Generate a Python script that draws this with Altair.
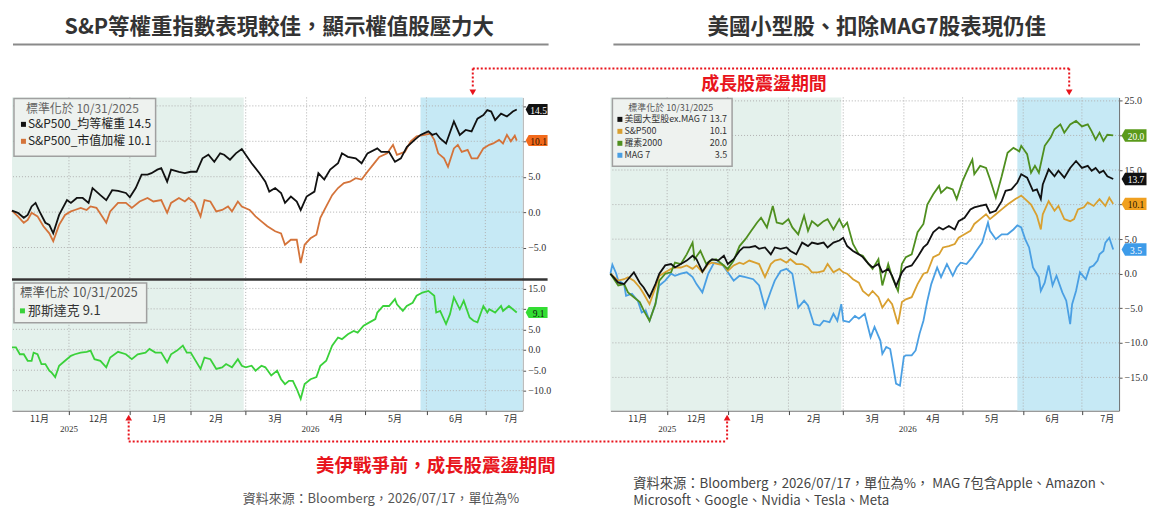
import altair as alt
import pandas as pd

FONT = "Noto Sans CJK TC"
NUMF = "Liberation Serif"
RED = "#e8141c"

START = "2025-11-02"
X_END = "2026-07-20"

# ---------------- data: (days after 2025-11-02, % change since 10/31/2025) ----------------
ew = [(0,0.2),(3,-0.1),(6,-0.8),(8,-0.4),(10,0.8),(12,1.3),(14,0.1),(17,-1.5),(19,-1.8),(21,-3.0),
      (24,-0.4),(28,1.7),(30,1.3),(33,2.0),(36,2.0),(39,1.3),(41,3.4),(45,2.4),(48,1.7),(51,3.1),
      (54,3.0),(58,2.7),(60,2.1),(63,3.4),(66,5.3),(69,5.3),(71,5.5),(74,6.0),(76,6.2),(79,4.3),
      (81,6.0),(85,5.7),(88,5.5),(91,5.7),(94,5.7),(97,7.6),(100,8.1),(103,7.1),(106,8.3),(108,8.1),
      (111,7.4),(114,8.3),(117,8.9),(119,8.1),(122,6.9),(126,5.5),(129,4.3),(131,2.9),(134,3.4),(137,2.7),
      (139,1.3),(142,2.2),(145,1.5),(147,0.3),(150,2.2),(154,2.9),(156,5.5),(159,4.6),(162,6.0),(166,6.9),
      (168,8.3),(171,7.8),(175,7.6),(178,6.9),(181,8.3),(186,9.0),(188,8.5),(192,8.5),(195,7.1),(198,7.6),
      (201,9.2),(205,10.2),(208,10.9),(212,11.4),(214,10.9),(216,11.1),(218,10.4),(221,9.7),(225,12.8),(228,10.9),
      (231,11.6),(234,11.4),(237,13.2),(240,13.7),(242,14.4),(244,14.2),(246,13.0),(249,13.9),(252,13.5),(255,14.2),
      (257,14.5)]
cw = [(0,0.2),(3,-0.6),(6,-1.5),(8,-1.1),(10,-0.1),(13,-0.6),(16,-2.0),(19,-3.0),(21,-4.1),(24,-1.8),
      (27,-0.4),(30,0.1),(32,0.3),(35,0.6),(38,0.3),(40,0.8),(43,0.6),(48,-1.5),(50,0.1),(54,1.3),
      (58,1.3),(61,0.6),(65,1.5),(69,2.0),(72,1.5),(76,1.7),(79,-0.1),(81,1.3),(85,2.0),(88,1.5),
      (90,2.0),(93,1.3),(96,-0.6),(98,1.7),(101,1.5),(104,0.1),(107,0.3),(110,0.8),(112,0.1),(115,1.5),
      (117,0.8),(121,0.3),(124,-0.6),(127,-1.3),(130,-2.0),(134,-2.7),(137,-3.0),(139,-4.6),(142,-3.9),(145,-3.9),
      (147,-7.2),(149,-4.6),(152,-3.7),(155,-3.2),(157,-0.8),(160,0.8),(163,2.4),(166,3.4),(169,4.1),(172,4.3),
      (175,4.8),(178,4.6),(181,5.7),(185,7.1),(187,7.8),(191,8.3),(194,9.5),(196,8.1),(200,8.5),(203,10.0),
      (206,10.7),(210,10.9),(213,11.1),(215,10.2),(217,8.3),(220,7.6),(222,6.4),(225,9.0),(227,9.5),(229,8.5),
      (232,8.8),(234,7.6),(237,7.6),(240,9.0),(243,9.5),(245,9.7),(248,10.2),(250,9.7),(252,10.9),(254,10.0),
      (256,10.8),(257,10.1)]
nq = [(0,0.6),(2,0.6),(4,-1.1),(6,-1.1),(8,-2.7),(10,-2.7),(11,-0.7),(13,-1.1),(15,-3.5),(17,-3.5),
      (19,-5.1),(20,-5.5),(22,-6.7),(24,-3.9),(27,-2.7),(30,-1.5),(32,-1.1),(35,-0.7),(38,-0.5),(40,-0.2),
      (42,-2.3),(45,-2.7),(48,-4.3),(50,-1.9),(54,-0.5),(58,-1.1),(61,-2.3),(64,-1.1),(68,-0.7),(70,0.2),
      (73,-0.7),(76,-0.7),(79,-3.1),(81,-1.1),(84,-0.2),(87,1.0),(89,-0.7),(91,-0.7),(96,-4.7),(98,-1.9),
      (101,-2.3),(104,-4.7),(107,-4.3),(109,-3.5),(112,-4.3),(115,-2.3),(117,-3.9),(119,-4.3),(122,-3.9),(124,-5.1),
      (127,-3.9),(129,-4.3),(132,-6.3),(135,-5.1),(137,-7.2),(139,-8.4),(141,-7.6),(143,-7.6),(145,-9.6),(147,-12.0),
      (149,-8.4),(152,-7.2),(155,-6.7),(157,-3.9),(160,-2.7),(163,1.0),(166,3.0),(168,2.6),(171,3.8),(174,4.6),
      (176,4.2),(179,5.9),(182,6.7),(185,7.5),(186,9.1),(189,10.7),(192,10.7),(195,12.4),(196,11.1),(199,9.5),
      (201,10.7),(204,11.5),(206,13.2),(209,14.0),(212,14.4),(215,13.2),(216,9.1),(218,9.5),(221,6.3),(223,8.7),
      (225,12.8),(228,9.9),(230,12.0),(233,7.9),(235,7.1),(237,6.7),(240,10.7),(242,9.1),(243,9.9),(246,9.1),
      (249,10.7),(250,9.5),(253,10.7),(257,9.1)]
rs = [(0,0.0),(4,-1.7),(7,-1.5),(9,-2.7),(12,-3.4),(15,-4.1),(17,-5.3),(20,-6.8),(23,-4.4),(25,-1.0),
      (28,0.0),(31,0.2),(33,1.6),(36,1.4),(39,2.8),(42,4.5),(43,2.1),(46,3.3),(49,1.4),(51,1.9),
      (54,2.1),(57,1.4),(60,0.7),(63,1.9),(66,4.0),(69,5.0),(72,6.2),(75,7.4),(77,8.1),(80,6.7),
      (83,9.8),(85,7.4),(88,7.2),(91,7.9),(93,6.7),(96,5.7),(99,8.4),(101,6.2),(103,7.6),(106,6.9),
      (109,7.6),(111,7.9),(114,6.4),(117,7.9),(119,6.7),(121,7.4),(124,4.3),(127,2.8),(129,2.6),(132,1.4),
      (134,0.7),(137,2.1),(139,-1.7),(142,1.4),(144,-0.5),(147,-2.5),(149,1.4),(151,2.4),(154,2.8),(157,6.0),
      (160,7.2),(162,10.0),(165,11.5),(168,12.7),(169,11.7),(172,12.5),(175,12.2),(177,10.8),(180,13.4),(183,15.3),
      (185,16.5),(186,14.4),(189,15.6),(192,15.3),(194,13.7),(197,11.0),(200,14.1),(203,17.5),(206,18.2),(209,17.7),
      (210,18.5),(213,17.3),(215,14.6),(217,15.6),(219,14.6),(222,18.5),(225,19.7),(227,20.9),(230,21.6),(232,20.4),
      (235,21.6),(238,22.1),(241,21.3),(244,21.6),(246,20.6),(248,19.4),(250,20.4),(252,19.2),(254,20.1),(257,20.0)]
xm = [(0,0.0),(4,-1.3),(7,-1.5),(9,-0.8),(12,0.2),(15,-1.3),(17,-2.0),(20,-3.4),(23,-1.5),(25,0.0),
      (28,1.2),(31,1.4),(33,0.9),(36,1.4),(39,1.9),(42,2.6),(44,2.1),(47,0.3),(50,1.6),(52,2.1),
      (55,1.9),(58,2.6),(60,1.4),(63,2.1),(66,3.3),(68,3.8),(71,3.8),(74,4.0),(76,3.6),(79,3.8),
      (82,2.8),(84,3.8),(87,3.6),(90,3.8),(92,3.3),(95,2.8),(98,4.5),(101,4.0),(103,4.5),(106,4.3),
      (109,4.5),(111,3.8),(114,4.5),(117,4.8),(119,5.2),(121,4.0),(124,3.3),(127,2.8),(129,2.4),(132,1.4),
      (134,0.9),(137,1.4),(139,0.2),(142,0.7),(144,-0.3),(146,-1.8),(149,0.2),(151,0.9),(154,1.2),(157,2.4),
      (160,3.8),(162,4.3),(165,6.0),(168,6.7),(170,6.4),(173,6.9),(176,6.4),(178,7.6),(181,8.1),(184,9.3),
      (186,9.6),(189,9.8),(192,10.0),(194,8.8),(197,9.1),(200,10.5),(202,12.0),(205,12.2),(208,13.2),(210,14.4),
      (213,13.9),(216,12.0),(218,12.2),(220,10.8),(221,12.9),(224,15.1),(227,14.1),(229,14.9),(232,13.9),(235,15.3),
      (238,16.3),(241,15.3),(244,15.6),(246,14.9),(248,15.3),(250,14.6),(252,14.9),(254,14.1),(257,13.7)]
sp = [(0,0.0),(4,-1.0),(7,-0.8),(9,-0.5),(12,-1.0),(15,-2.0),(17,-2.9),(20,-4.4),(23,-2.0),(25,-0.3),
      (28,0.2),(31,0.7),(33,0.9),(36,0.9),(39,1.2),(42,0.7),(44,1.2),(47,0.2),(50,1.4),(52,1.6),
      (55,1.4),(58,1.2),(60,0.4),(63,1.2),(66,1.6),(68,1.4),(71,1.9),(74,1.6),(76,1.4),(79,-0.5),
      (82,1.4),(84,1.9),(87,2.1),(90,1.6),(92,2.1),(95,1.4),(98,1.4),(101,0.9),(103,0.2),(106,0.2),
      (109,0.4),(111,1.4),(114,0.2),(117,0.7),(119,0.2),(121,0.0),(124,-0.8),(127,-1.3),(129,-2.5),(132,-3.2),
      (134,-2.5),(137,-3.4),(139,-4.9),(142,-3.7),(144,-4.4),(147,-7.3),(149,-4.1),(151,-3.7),(154,-3.4),(157,-1.5),
      (160,0.0),(162,0.2),(165,2.4),(168,2.8),(170,3.8),(173,4.0),(176,4.3),(178,5.2),(181,5.7),(184,6.2),
      (186,7.2),(189,7.9),(192,8.6),(194,7.9),(197,8.6),(200,9.3),(203,10.0),(207,10.8),(210,11.3),(212,10.8),
      (215,10.0),(218,8.4),(220,6.4),(221,8.6),(224,10.5),(227,9.1),(229,9.8),(232,7.9),(235,7.6),(237,7.9),
      (239,9.3),(242,9.6),(244,10.3),(247,9.8),(250,10.8),(253,9.8),(255,11.0),(257,10.1)]
mg = [(0,0.0),(1,1.3),(3,0.0),(4,-1.0),(7,-1.5),(8,-3.2),(11,-2.9),(14,-3.9),(16,-5.6),(18,-5.3),
      (20,-6.8),(23,-4.4),(25,-1.7),(28,-1.0),(31,0.0),(33,-0.3),(36,0.0),(39,0.2),(42,-0.5),(44,-1.5),
      (47,-2.7),(50,0.0),(53,1.6),(57,1.4),(60,0.2),(63,-1.0),(66,-0.3),(69,-0.5),(73,-0.8),(76,-1.7),
      (79,-4.9),(82,-2.5),(84,-1.0),(87,0.4),(90,0.7),(93,0.0),(96,-4.9),(99,-3.9),(101,-4.6),(104,-7.3),
      (107,-7.5),(109,-6.8),(112,-7.0),(114,-5.8),(116,-6.8),(118,-4.4),(119,-6.8),(122,-7.0),(125,-6.1),(127,-6.5),
      (130,-5.8),(133,-9.2),(135,-7.7),(138,-9.7),(139,-11.6),(141,-10.6),(143,-10.9),(144,-12.5),(146,-15.9),(148,-16.2),
      (150,-12.0),(151,-11.8),(154,-11.8),(156,-11.1),(158,-8.7),(160,-6.8),(162,-3.9),(164,-1.5),(167,0.9),(169,-0.5),
      (172,1.4),(175,-0.3),(177,0.9),(179,1.6),(182,1.4),(185,2.4),(187,3.3),(190,4.5),(193,7.4),(194,6.2),
      (197,5.0),(200,5.7),(203,5.7),(206,6.4),(208,7.0),(210,6.7),(212,5.0),(214,3.8),(216,0.9),(219,-0.5),
      (220,-2.5),(222,-1.3),(224,1.2),(226,-1.7),(228,-0.3),(231,-2.7),(233,-3.9),(235,-7.3),(236,-4.4),(238,-2.5),
      (240,0.2),(243,-0.8),(245,0.9),(247,1.2),(249,1.9),(250,2.8),(252,3.3),(253,4.5),(255,5.2),(257,3.5)]

month_starts = ["2025-12-01", "2026-01-01", "2026-02-01", "2026-03-01",
                "2026-04-01", "2026-05-01", "2026-06-01", "2026-07-01"]
month_mids = ["2025-11-16", "2025-12-16", "2026-01-16", "2026-02-14", "2026-03-16",
              "2026-04-16", "2026-05-16", "2026-06-16", "2026-07-14"]
month_names = ["11月", "12月", "1月", "2月", "3月", "4月", "5月", "6月", "7月"]
year_pos = ["2025-12-01", "2026-04-03"]
year_names = ["2025", "2026"]
prewar_period = ["2025-11-02", "2026-02-28"]
volatile_period = ["2026-05-29", "2026-07-20"]
lt_ticks = [-5, 0, 5, 10, 15]
lb_ticks = [-10, -5, 0, 5, 10, 15]
rt_ticks = [-15, -10, -5, 0, 5, 10, 15, 20, 25]

ONE = pd.DataFrame({"k": [0]})
TAG = "M-1,0L-0.72,-0.5L1,-0.5L1,0.5L-0.72,0.5Z"

# ---- left column geometry: two stacked sub-plots sharing one y scale ----
LH, TOP_H, BOT_Y0 = 314, 181, 184
TOP_ZERO, TOP_PPU = 115.0, 7.1      # pixel row of 0 and px per unit, upper sub-plot
BOT_ZERO, BOT_PPU = 253.0, 4.1      # same for lower (Nasdaq) sub-plot
K = BOT_PPU / TOP_PPU
C = (TOP_ZERO - BOT_ZERO) / TOP_PPU
LEFT_DOM = [(TOP_ZERO - LH) / TOP_PPU, TOP_ZERO / TOP_PPU]


def ms(s):
    return int(pd.Timestamp(s, tz="UTC").timestamp() * 1000)


XS = alt.Scale(domain=[ms(START), ms(X_END)], nice=False)
XAX = alt.Axis(values=[ms(d) for d in month_starts], labels=False, ticks=True, tickSize=4,
               tickColor="#444", domainColor="#555", grid=False, title=None)


def series_df(pts):
    base = pd.Timestamp(START)
    return pd.DataFrame({
        "date": [(base + pd.Timedelta(days=d)).strftime("%Y-%m-%d") for d, _ in pts],
        "v": [v for _, v in pts],
    })


def txt(text, x, y, size=12, color="#333", weight="normal", align="left", font=FONT):
    return alt.Chart(ONE).mark_text(
        text=text, fontSize=size, color=color, fontWeight=weight, align=align,
        baseline="middle", font=font
    ).encode(x=alt.value(x), y=alt.value(y))


def hline(x1, x2, y, color, width=1.0, dash=None):
    kw = dict(color=color, strokeWidth=width)
    if dash:
        kw["strokeDash"] = dash
    return alt.Chart(ONE).mark_rule(**kw).encode(x=alt.value(x1), x2=alt.value(x2), y=alt.value(y))


def vline(x, y1, y2, color, width=1.0, dash=None):
    kw = dict(color=color, strokeWidth=width)
    if dash:
        kw["strokeDash"] = dash
    return alt.Chart(ONE).mark_rule(**kw).encode(x=alt.value(x), y=alt.value(y1), y2=alt.value(y2))


def box(x1, y1, x2, y2, fill, stroke=None, sw=1.0):
    kw = dict(fill=fill)
    if stroke:
        kw["stroke"] = stroke
        kw["strokeWidth"] = sw
    return alt.Chart(ONE).mark_rect(**kw).encode(
        x=alt.value(x1), x2=alt.value(x2), y=alt.value(y1), y2=alt.value(y2))


def tri(x, y, shape):
    return alt.Chart(ONE).mark_point(shape=shape, filled=True, color=RED, size=45, opacity=1).encode(
        x=alt.value(x), y=alt.value(y))


def shading(y0, y1):
    out = []
    for period, col in [(prewar_period, "#e4f1ec"), (volatile_period, "#c6e9f5")]:
        out.append(
            alt.Chart(pd.DataFrame({"a": [period[0]], "b": [period[1]]})).mark_rect(color=col).encode(
                x=alt.X("a:T", scale=XS, axis=XAX), x2="b:T", y=alt.value(y0), y2=alt.value(y1)))
    return out


def vgrid():
    return alt.Chart(pd.DataFrame({"d": month_starts})).mark_rule(
        color="#b0b0b0", strokeDash=[1, 2], strokeWidth=1).encode(
        x=alt.X("d:T", scale=XS, axis=XAX))


def month_labels(H):
    return [
        alt.Chart(pd.DataFrame({"d": month_mids, "t": month_names})).mark_text(
            font=FONT, fontSize=9, color="#333", baseline="middle").encode(
            x=alt.X("d:T", scale=XS, axis=XAX), y=alt.value(H + 8), text="t:N"),
        alt.Chart(pd.DataFrame({"d": year_pos, "t": year_names})).mark_text(
            font=NUMF, fontSize=9, color="#333", baseline="middle").encode(
            x=alt.X("d:T", scale=XS, axis=XAX), y=alt.value(H + 18), text="t:N"),
    ]


def subplot(ys, yax, yticks, lines, tags, tag_x, tag_size, k=1.0, c=0.0):
    expr = f"datum.v * {k} + {c}"
    Y = lambda: alt.Y("u:Q", scale=ys, axis=yax)
    layers = [
        alt.Chart(pd.DataFrame({"v": yticks})).transform_calculate(u=expr).mark_rule(
            color="#b0b0b0", strokeDash=[1, 2], strokeWidth=1).encode(y=Y())
    ]
    for pts, col in lines:
        layers.append(
            alt.Chart(series_df(pts)).transform_calculate(u=expr).mark_line(
                color=col, strokeWidth=1.8).encode(
                x=alt.X("date:T", scale=XS, axis=XAX), y=Y()))
    for val, bg, fg in tags:
        tdf = pd.DataFrame({"v": [val], "t": [f"{val:.1f}"]})
        layers.append(
            alt.Chart(tdf).transform_calculate(u=expr).mark_point(
                shape=TAG, size=tag_size, filled=True, color=bg, opacity=1, strokeWidth=0).encode(
                x=alt.value(tag_x), y=Y()))
        layers.append(
            alt.Chart(tdf).transform_calculate(u=expr).mark_text(
                color=fg, fontSize=9.5, font=NUMF, align="center", baseline="middle", dy=1.5).encode(
                x=alt.value(tag_x + 2), y=Y(), text="t:N"))
    return layers


# ================= left column =================
ys_left = alt.Scale(domain=LEFT_DOM, nice=False, zero=False)
left_values = lt_ticks + [v * K + C for v in lb_ticks]
orig = f"(datum.value > -8 ? datum.value : (datum.value - ({C})) / {K})"
# labels at 10 / 15 (upper) and 10 (lower) sit under the last-value tags, as in the source
hidden = f"(datum.value > -8 ? ({orig} > 7) : (abs({orig} - 10) < 0.01))"
yax_left = alt.Axis(
    orient="right", values=left_values, grid=False, title=None,
    labelExpr=f"{hidden} ? '' : format({orig}, '.1f')",
    labelFont=NUMF, labelFontSize=10, labelColor="#333", tickColor="#555",
    tickSize=3, domainColor="#999", labelPadding=2)

left_layers = []
left_layers += shading(0, TOP_H)
left_layers += shading(BOT_Y0, LH)
left_layers.append(vgrid())
left_layers += subplot(ys_left, yax_left, lt_ticks,
                       [(cw, "#d4733a"), (ew, "#111111")],
                       [(14.5, "#111111", "white"), (10.1, "#f26a1b", "#2a1200")], 526, 484)
left_layers += subplot(ys_left, yax_left, lb_ticks,
                       [(nq, "#3ad13a")],
                       [(9.1, "#33dd33", "#102010")], 526, 484, K, C)
left_layers += month_labels(LH)
left_layers += [
    # legend top
    box(2, 1, 144, 59, "#eef2ef", "#a0a0a0", 1.5),
    txt("標準化於 10/31/2025", 14, 12, 12, "#666"),
    box(9, 24.5, 14, 29.5, "#111111"),
    txt("S&P500_均等權重 14.5", 16, 27, 12, "#222"),
    box(9, 41.5, 14, 46.5, "#d4733a"),
    txt("S&P500_市值加權 10.1", 16, 44, 12, "#222"),
    # separator
    hline(0, 537, 182.5, "#333", 2.5),
    # legend bottom
    box(2, 186, 135, 226, "#eef2ef", "#a0a0a0", 1.5),
    txt("標準化於 10/31/2025", 8, 196, 12.5, "#555"),
    box(8, 211.5, 13, 216.5, "#3ad13a"),
    txt("那斯達克 9.1", 16, 214, 13, "#333"),
    # title block
    hline(0, 2, -88, "white", 1),
    txt("S&P等權重指數表現較佳，顯示權值股壓力大", 268, -70, 21.5, "#333", "bold", "center"),
    hline(1, 538, -53, "#8a8a8a", 2),
    # top bracket: growth-stock volatility period
    hline(462, 1060, -29, RED, 2, [2, 2]),
    vline(462, -29, -9, RED, 2, [2, 2]),
    vline(1060, -29, -9, RED, 2, [2, 2]),
    tri(462, -5, "triangle-down"),
    tri(1060, -5, "triangle-down"),
    txt("成長股震盪期間", 754, -12, 18, RED, "bold", "center"),
    # bottom bracket: before US-Iran war
    hline(117, 717, 345, RED, 2, [2, 2]),
    vline(117, 325, 345, RED, 2, [2, 2]),
    vline(717, 325, 345, RED, 2, [2, 2]),
    tri(117, 321, "triangle-up"),
    tri(717, 321, "triangle-up"),
    txt("美伊戰爭前，成長股震盪期間", 425, 370, 18.5, RED, "bold", "center"),
    txt("資料來源：Bloomberg，2026/07/17，單位為%", 370, 403, 13, "#555", "normal", "center"),
]
left = alt.layer(*left_layers).properties(width=512, height=LH)

# ================= right panel =================
RH = 314
ys_right = alt.Scale(domain=[-19.8, 25.5], nice=False, zero=False)
yax_right = alt.Axis(orient="right", values=rt_ticks, grid=False, title=None,
                     labelExpr="(datum.value == 20 || datum.value == 10) ? '' : format(datum.value, '.1f')",
                     labelFont=NUMF, labelFontSize=10, labelColor="#333", tickColor="#555",
                     tickSize=3, domainColor="#666", labelPadding=2)
leg_rows = [("美國大型股ex.MAG 7", "13.7", "#111111", 22),
            ("S&P500", "10.1", "#d9a030", 34),
            ("羅素2000", "20.0", "#4f8f1f", 46),
            ("MAG 7", "3.5", "#4a9fe3", 58)]
right_layers = []
right_layers += shading(0, RH)
right_layers.append(vgrid())
right_layers += subplot(ys_right, yax_right, rt_ticks,
                        [(mg, "#4a9fe3"), (sp, "#d9a030"), (rs, "#4f8f1f"), (xm, "#111111")],
                        [(20.0, "#5a9a1a", "white"), (13.7, "#111111", "white"),
                         (10.1, "#f0a020", "#2a1a00"), (3.5, "#3d9be9", "white")], 525, 625)
right_layers += month_labels(RH)
right_layers += [box(2, 1, 122, 69, "#eef2ef", "#a0a0a0", 1.5),
                 txt("標準化於 10/31/2025", 18, 11, 9, "#555")]
for name, val, col, yy in leg_rows:
    right_layers += [box(7, yy - 2.5, 12, yy + 2.5, col),
                     txt(name, 14, yy, 9, "#333"),
                     txt(val, 117, yy, 9, "#333", "normal", "right")]
right_layers += [
    txt("美國小型股、扣除MAG7股表現仍佳", 267, -70, 21.5, "#333", "bold", "center"),
    hline(3, 531, -53, "#8a8a8a", 2),
    txt("資料來源：Bloomberg，2026/07/17，單位為%， MAG 7包含Apple、Amazon、", 23, 388, 13.3, "#444"),
    txt("Microsoft、Google、Nvidia、Tesla、Meta", 23, 405, 13.3, "#444"),
]
right = alt.layer(*right_layers).properties(width=510, height=RH)

chart = alt.hconcat(left, right, spacing=88, bounds="flush").properties(
    padding=0, background="white"
).configure_view(strokeWidth=0)

chart.save("out.html", embed_options={"renderer": "svg", "actions": False})
